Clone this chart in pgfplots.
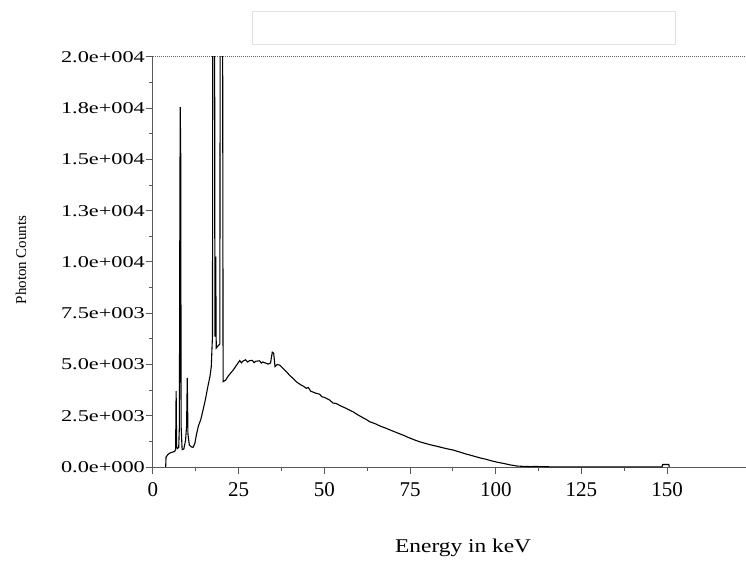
\documentclass[border=0pt]{standalone}
\usepackage{fontspec}
\setmainfont{Liberation Serif}
\newfontfamily\ytickfont[FakeStretch=1.35]{Liberation Serif}
\newfontfamily\xlabfont[FakeStretch=1.2]{Liberation Serif}
\usepackage{pgfplots}
\usepackage{pgfplotstable}
\pgfplotsset{compat=1.18}

\pgfplotstableread{
x y
3.7 0
3.8 480
4.3 600
4.9 680
5.6 720
6.3 760
6.6 850
6.75 3700
6.9 1000
7.1 900
7.5 950
7.7 2000
7.85 13400
7.95 17550
8.1 15000
8.2 2000
8.5 850
9.0 880
9.5 1300
9.8 2000
10.0 4350
10.2 1600
10.6 1070
11.2 980
11.7 960
12.2 1150
12.7 1600
13.2 1970
14.0 2350
14.6 2780
15.3 3300
16.0 3920
16.6 4400
17.0 4890
17.35 6380
17.5 30000
17.95 30000
18.05 6360
18.3 10260
18.45 5800
18.9 5900
19.5 6000
19.65 30000
20.25 30000
20.45 4160
21.2 4240
22.0 4450
22.5 4550
23.4 4730
24.3 4950
25.3 5190
25.8 5080
26.2 5160
27.0 5230
27.6 5120
28.2 5190
29.0 5200
29.5 5090
30.0 5160
31.1 5180
31.6 5070
32.0 5120
33.0 5060
33.6 5020
34.3 5080
34.8 5600
35.2 5550
35.6 4900
36.2 5000
37.0 4970
38.0 4800
38.9 4650
40.0 4450
41.0 4300
41.8 4160
43.0 4020
44.0 3930
44.7 3840
45.3 3880
46.0 3700
47.5 3600
48.6 3550
49.3 3420
50.0 3400
51.5 3270
52.5 3120
53.4 3100
55.0 2960
56.5 2850
57.5 2760
58.3 2700
60.0 2520
61.5 2380
62.4 2300
63.2 2210
65.0 2100
66.5 1980
68.0 1890
70.0 1750
71.5 1650
72.9 1560
74.5 1440
76.0 1340
77.8 1230
79.5 1150
81.0 1080
82.6 1020
84.5 940
86.0 880
87.5 830
89.5 730
91.0 650
92.4 585
94.0 510
95.5 440
97.2 375
99.0 290
100.5 230
102.1 180
104.0 110
106.0 50
108.0 30
110.0 20
112.0 25
115.0 10
120.0 8
125.0 5
130.0 5
135.0 5
140.0 5
145.0 5
148.5 5
148.7 120
150.5 120
150.6 0
}\spectrum

\begin{document}
\begin{tikzpicture}
\useasboundingbox (-153bp,-97bp) rectangle (593bp,467bp);
\draw[black!12, line width=1bp] (99bp,422bp) rectangle (522bp,455bp);
\begin{axis}[
  at={(0,0)}, anchor=south west,
  scale only axis, width=593bp, height=410bp,
  xmin=0, xmax=173, ymin=0, ymax=20000,
  axis x line*=bottom, axis y line*=left,
  axis line style={-, draw=black!65, line width=1bp},
  xtick={0,25,50,75,100,125,150}, minor x tick num=1,
  ytick={0,2500,5000,7500,10000,12500,15000,17500,20000}, minor y tick num=1,
  yticklabels={0.0e+000,2.5e+003,5.0e+003,7.5e+003,1.0e+004,1.3e+004,1.5e+004,1.8e+004,2.0e+004},
  scaled y ticks=false,
  tick align=outside, major tick length=7bp, minor tick length=4bp,
  tick style={black!65, line width=1bp},
  /pgf/number format/assume math mode=true,
  xticklabel style={font=\fontsize{21bp}{24bp}\selectfont, yshift=-5bp},
  yticklabel style={font=\fontsize{16.5bp}{19bp}\ytickfont, inner sep=1bp},
  xlabel={Energy in keV},
  xlabel style={font=\fontsize{19.5bp}{22bp}\xlabfont, at={(rel axis cs:0.523,0)}, anchor=center, yshift=-81bp},
  ylabel={Photon Counts},
  ylabel style={font=\fontsize{15bp}{17bp}\selectfont, at={(axis description cs:-0.2226,0.505)}, anchor=center},
]
\addplot[black, line width=1.1bp] table[x=x, y=y] {\spectrum};
\end{axis}
\draw[black!60, densely dotted, line width=1bp] (0,410bp) -- (593bp,410bp);
\end{tikzpicture}
\end{document}
